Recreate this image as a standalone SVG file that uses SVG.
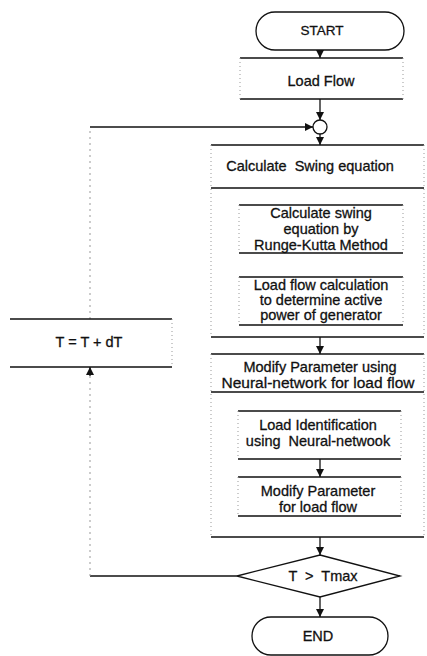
<svg xmlns="http://www.w3.org/2000/svg" width="427" height="656" viewBox="0 0 427 656">
<defs>
<marker id="ah" viewBox="0 0 10 10" refX="10" refY="5" markerWidth="8" markerHeight="8" markerUnits="userSpaceOnUse" orient="auto">
<path d="M0,0 L10,5 L0,10 z" fill="#111"/>
</marker>
<style>
.t{font-family:"Liberation Sans",Arial,sans-serif;font-size:14.5px;fill:#111;stroke:#111;stroke-width:0.3;text-anchor:middle}
.h{stroke:#111;stroke-width:1.4;fill:none}
.s{stroke:#999;stroke-width:1;stroke-dasharray:1 3;fill:none}
.c{stroke:#111;stroke-width:1.3;fill:none}
.cd{stroke:#999;stroke-width:1;stroke-dasharray:2 4;fill:none}
.term{stroke:#111;stroke-width:1.3;fill:#fff}
</style>
</defs>
<rect width="427" height="656" fill="#fff"/>

<g id="connectors">
<path class="c" d="M320,50 L320,58" marker-end="url(#ah)"/>
<path class="c" d="M320,99 L320,120" marker-end="url(#ah)"/>
<path class="c" d="M320,134 L320,145" marker-end="url(#ah)"/>
<path class="c" d="M320,337 L320,354" marker-end="url(#ah)"/>
<path class="c" d="M320,459 L320,477" marker-end="url(#ah)"/>
<path class="c" d="M320,537 L320,555" marker-end="url(#ah)"/>
<path class="c" d="M320,597 L320,617" marker-end="url(#ah)"/>
<path class="c" d="M237,576 L90,576"/>
<path class="cd" d="M90,576 L90,376"/>
<path class="c" d="M90,376 L90,367" marker-end="url(#ah)"/>
<path class="cd" d="M90,319 L90,127"/>
<path class="c" d="M90,127 L313,127" marker-end="url(#ah)"/>
</g>

<g id="start">
<rect class="term" x="256" y="12" width="148" height="38" rx="19"/>
<text class="t" x="322" y="35" style="font-size:13.5px">START</text>
</g>

<g id="load-flow">
<path class="h" d="M240,58 H403 M240,99 H403"/>
<path class="s" d="M240,58 V99 M403,58 V99"/>
<text class="t" x="321" y="86">Load Flow</text>
</g>

<g id="junction">
<circle cx="320" cy="127" r="7" fill="#fff" stroke="#111" stroke-width="1.3"/>
</g>

<g id="calc-swing">
<path class="h" d="M211,145 H424 M211,188 H424 M211,337 H424"/>
<path class="s" d="M211,145 V337 M424,145 V337"/>
<text class="t" x="310" y="171" xml:space="preserve">Calculate  Swing equation</text>
</g>

<g id="runge-kutta">
<path class="h" d="M239,205 H403 M239,253 H403"/>
<path class="s" d="M239,205 V253 M403,205 V253"/>
<text class="t" x="321" y="218">Calculate swing</text>
<text class="t" x="321" y="234">equation by</text>
<text class="t" x="321" y="250">Runge-Kutta Method</text>
</g>

<g id="load-flow-calc">
<path class="h" d="M239,277 H403 M239,325 H403"/>
<path class="s" d="M239,277 V325 M403,277 V325"/>
<text class="t" x="321" y="290">Load flow calculation</text>
<text class="t" x="321" y="305">to determine active</text>
<text class="t" x="321" y="320">power of generator</text>
</g>

<g id="modify-nn">
<path class="h" d="M211,354 H424 M211,392 H424 M211,537 H424"/>
<path class="s" d="M211,354 V537 M424,354 V537"/>
<text class="t" x="320" y="372">Modify Parameter using</text>
<text class="t" x="318" y="388" style="font-size:15.5px">Neural-network for load flow</text>
</g>

<g id="load-identification">
<path class="h" d="M238,411 H401 M238,459 H401"/>
<path class="s" d="M238,411 V459 M401,411 V459"/>
<text class="t" x="318" y="430">Load Identification</text>
<text class="t" x="318" y="446" xml:space="preserve">using  Neural-netwook</text>
</g>

<g id="modify-param">
<path class="h" d="M238,477 H401 M238,516 H401"/>
<path class="s" d="M238,477 V516 M401,477 V516"/>
<text class="t" x="318" y="496">Modify Parameter</text>
<text class="t" x="318" y="512">for load flow</text>
</g>

<g id="decision">
<path d="M320,555 L400,576 L320,597 L237,576 Z" fill="#fff" stroke="#111" stroke-width="1.3"/>
<text class="t" x="323" y="581" xml:space="preserve">T  &gt;  Tmax</text>
</g>

<g id="end">
<rect class="term" x="252" y="617" width="136" height="38" rx="19"/>
<text class="t" x="318" y="641">END</text>
</g>

<g id="increment">
<path class="h" d="M10,319 H172 M10,367 H172"/>
<path class="s" d="M172,319 V367"/>
<text class="t" x="89" y="347" xml:space="preserve">T = T + dT</text>
</g>
</svg>
